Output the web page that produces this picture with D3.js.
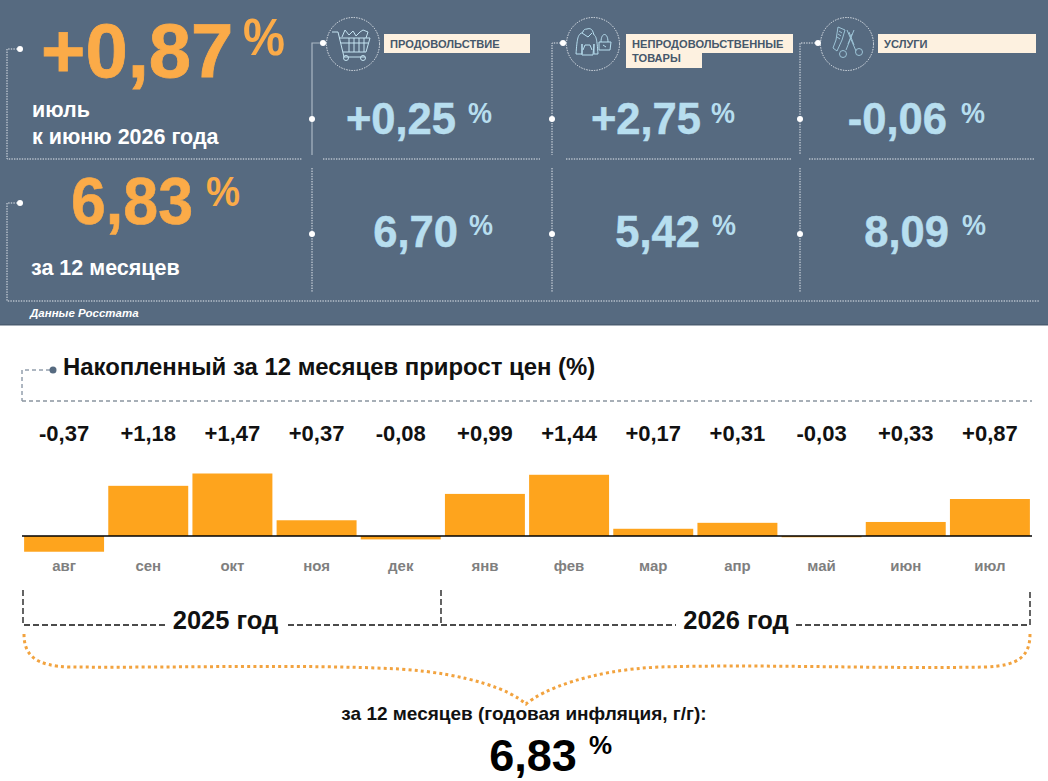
<!DOCTYPE html>
<html lang="ru">
<head>
<meta charset="UTF-8">
<title>Инфляция</title>
<script src="https://d3js.org/d3.v7.min.js"></script>
<style>
    html, body { margin: 0; padding: 0; background: #fff; }
    svg { display: block; }
    text { font-family: "Liberation Sans", Arial, sans-serif; font-weight: bold; }
</style>
</head>
<body>
<div id="container"></div>
<script>
// DATA
const months = ["авг", "сен", "окт", "ноя", "дек", "янв", "фев", "мар", "апр", "май", "июн", "июл"];
const monthly = [-0.37, 1.18, 1.47, 0.37, -0.08, 0.99, 1.44, 0.17, 0.31, -0.03, 0.33, 0.87];
const monthlyLabels = ["-0,37", "+1,18", "+1,47", "+0,37", "-0,08", "+0,99", "+1,44", "+0,17", "+0,31", "-0,03", "+0,33", "+0,87"];
const categories = [["ПРОДОВОЛЬСТВИЕ"], ["НЕПРОДОВОЛЬСТВЕННЫЕ", "ТОВАРЫ"], ["УСЛУГИ"]];
const categoryMonth = ["+0,25", "+2,75", "-0,06"];
const categoryYear = ["6,70", "5,42", "8,09"];
const totalMonth = "+0,87";
const totalYear = "6,83";

const width = 1048;
const height = 781;
const orange = "#fbab48";
const blue = "#b7deef";
const slate = "#566a80";

const svg = d3.select("#container").append("svg")
    .attr("width", width)
    .attr("height", height)
    .attr("viewBox", "0 0 " + width + " " + height);

// little helpers
function label(x, y, str, size, color, anchor, style) {
    const t = svg.append("text")
        .attr("x", x).attr("y", y)
        .attr("font-size", size)
        .attr("fill", color)
        .attr("text-anchor", anchor || "start")
        .text(str);
    if (style) t.attr("font-style", style);
    return t;
}
// the % signs in the original are taller than they are wide
function squeezed(x, y, str, size, color, len) {
    return label(x, y, str, size, color)
        .attr("textLength", len)
        .attr("lengthAdjust", "spacingAndGlyphs");
}
function dotted(d, w) {
    return svg.append("path").attr("d", d)
        .attr("fill", "none")
        .attr("stroke", "#e4e9ee")
        .attr("stroke-width", w || 1)
        .attr("stroke-dasharray", "1.4 1.2");
}
function dot(x, y, r) {
    svg.append("circle").attr("cx", x).attr("cy", y).attr("r", r || 3).attr("fill", "#fff");
}

// TOP PANEL
svg.append("rect").attr("width", width).attr("height", 325).attr("fill", slate);
svg.append("rect").attr("y", 324).attr("width", width).attr("height", 1.5).attr("fill", "#4a5c70");

dotted("M20,49H7V159H302");
dotted("M20,203H7V301H1040");
dot(20, 49); dot(20, 203);

label(41, 77, totalMonth, 76, orange).attr("stroke", orange).attr("stroke-width", 0.8);
squeezed(243, 55, "%", 52, orange, 42);
label(32, 117, "июль", 21.5, "#fff");
label(32, 144, "к июню 2026 года", 21.5, "#fff");
squeezed(71, 224, totalYear, 66, orange, 122).attr("stroke", orange).attr("stroke-width", 0.6);
squeezed(206, 206, "%", 43, orange, 34);
label(31, 275, "за 12 месяцев", 21.5, "#fff");
label(30, 317, "Данные Росстата", 11.5, "#fff", "start", "italic");

// category columns
const colX = [312, 552, 800];
const iconX = [353, 593, 847];
const dotX = [323, 563, 818];
const rowLine = [[323, 540], [566, 792], [809, 1035]];
const tagX = [384, 626, 878];
const tagW = [146, 167, 158];
const monthEnd = [456, 701, 947];
const yearEnd = [458, 700, 949];
const monthPct = [468, 711, 961];
const yearPct = [469, 712, 962];

colX.forEach(function (x, i) {
    // first column has a solid line on the upper half
    if (i === 0) {
        svg.append("path").attr("d", "M323,43H312V155").attr("fill", "none")
            .attr("stroke", "#aab7c4").attr("stroke-width", 1.2);
    } else {
        dotted("M" + dotX[i] + ",43H" + x + "V155");
    }
    dotted("M" + x + ",168V292");
    dotted("M" + rowLine[i][0] + ",159H" + rowLine[i][1]);
    dot(dotX[i], 43); dot(x, 119); dot(x, 234);

    // icon ring
    svg.append("circle").attr("cx", iconX[i]).attr("cy", 44).attr("r", 26.5)
        .attr("fill", "none").attr("stroke", "#e4e9ee").attr("stroke-dasharray", "1.4 1.2");

    // tag
    svg.append("rect").attr("x", tagX[i]).attr("y", 34).attr("width", tagW[i]).attr("height", 19).attr("fill", "#fdf1e0");
    if (categories[i].length > 1) {
        svg.append("rect").attr("x", tagX[i]).attr("y", 52).attr("width", 76).attr("height", 16).attr("fill", "#fdf1e0");
    }
    categories[i].forEach(function (s, j) {
        label(tagX[i] + 6, 48 + j * 14, s, 11.1, "#46586b");
    });

    label(monthEnd[i], 134, categoryMonth[i], 43.5, blue, "end").attr("stroke", blue).attr("stroke-width", 0.5);
    squeezed(monthPct[i], 123, "%", 29, blue, 24);
    label(yearEnd[i], 247, categoryYear[i], 43.5, blue, "end").attr("stroke", blue).attr("stroke-width", 0.5);
    squeezed(yearPct[i], 235, "%", 29, blue, 24);
});

// icons
function icon(x, y, d, color) {
    svg.append("path").attr("transform", "translate(" + x + "," + y + ")")
        .attr("d", d).attr("fill", "none").attr("stroke", color).attr("stroke-width", 1);
}
function ring(cx, cy, r) {
    return "M" + (cx - r) + "," + cy + "a" + r + "," + r + " 0 1 0 " + (2 * r) + ",0a" + r + "," + r + " 0 1 0 " + (-2 * r) + ",0";
}
icon(353, 44, "M-21,-12H-15L-9,13H12M-14,-6H17L13,8H-10M-12,-1H15M-4,-6V8M1,-6V8M6,-6V8M11,-6V8"
    + "M-11,-7L-8,-14L-4,-9L0,-13L3,-8L7,-12L10,-14L15,-12L13,-6"
    + ring(-7, 14, 2.5) + ring(10, 14, 2.5), "#c4e3f1");
icon(593, 44, "M-6,-15C-3,-16 -1,-15 0,-12L1,-9C3,-8 4,-5 5,10H1V0L0,11H-11L-11,0V10H-17C-16,-5 -15,-8 -13,-10L-10,-12C-10,-14 -8,-15 -6,-15Z"
    + "M-11,-11L-5,-7L-1,-11M-10,6L-8,1H-3L-1,6"
    + "M6,-2H18L17,6H6ZM8,-2C8,-12 15,-12 15,-2M10,1L13,3", "#b7deef");
icon(847, 44, "M-9,-17L-2,-14L-5,-4L-10,7L-14,4L-11,-4ZM-8,-13L-5,-11M-9,-10L-6,-8M-10,-7L-7,-5"
    + "M0,-14L9,7M7,-14L-1,6M2,-12L7,1M5,-10L1,0"
    + ring(12, 8, 3.5) + ring(-4, 10, 3.5), "#9cc3d6");

// BOTTOM CHART
// title
svg.append("path").attr("d", "M50,370H22V401").attr("fill", "none")
    .attr("stroke", "#5d6f83").attr("stroke-width", 1).attr("stroke-dasharray", "4 3");
svg.append("path").attr("d", "M22,401H1032").attr("fill", "none")
    .attr("stroke", "#8a95a0").attr("stroke-width", 1.3).attr("stroke-dasharray", "4 3");
svg.append("circle").attr("cx", 53).attr("cy", 370).attr("r", 3.5).attr("fill", slate);
label(63, 375, "Накопленный за 12 месяцев прирост цен (%)", 23.9, "#111");

const xScale = d3.scaleBand().domain(months).range([22, 1032]).paddingInner(0.05).paddingOuter(0.025);
const yScale = d3.scaleLinear().domain([0, 1.47]).range([536, 473.5]);

svg.selectAll("rect.bar")
    .data(monthly)
    .enter()
    .append("rect")
    .attr("class", "bar")
    .attr("x", function (d, i) { return xScale(months[i]); })
    .attr("y", function (d) { return yScale(Math.max(d, 0)); })
    .attr("width", xScale.bandwidth())
    .attr("height", function (d) { return Math.abs(yScale(d) - yScale(0)); })
    .attr("fill", "#fea41d");

svg.append("line")
    .attr("x1", 22).attr("x2", 1032)
    .attr("y1", yScale(0)).attr("y2", yScale(0))
    .attr("stroke", "#000").attr("stroke-width", 1.5);

svg.selectAll("text.val")
    .data(monthlyLabels)
    .enter()
    .append("text")
    .attr("class", "val")
    .attr("x", function (d, i) { return xScale(months[i]) + xScale.bandwidth() / 2; })
    .attr("y", 441)
    .attr("text-anchor", "middle")
    .attr("font-size", 22)
    .attr("fill", "#111")
    .text(function (d) { return d; });

const xaxis = d3.axisBottom(xScale).tickSize(0);
const axisG = svg.append("g").attr("transform", "translate(0,556)").call(xaxis);
axisG.select(".domain").remove();
axisG.selectAll("text")
    .attr("dy", 0).attr("y", 15)
    .attr("font-family", "Liberation Sans")
    .attr("font-size", 15)
    .attr("fill", "#7f7f7f");

// year brackets
svg.append("path")
    .attr("d", "M23,590V625H165M288,625H676M796,625H1030V590M441,590V625")
    .attr("fill", "none").attr("stroke", "#111").attr("stroke-width", 1.3).attr("stroke-dasharray", "6 3");
label(225.5, 629, "2025 год", 25.5, "#111", "middle");
label(736, 629, "2026 год", 25.5, "#111", "middle");

// brace
svg.append("path")
    .attr("d", "M24,634C24,655 35,666 70,667C180,668 300,664 400,669C470,674 510,690 526,704C542,690 590,670 660,667C760,664 880,669 985,667C1020,666 1030,655 1030,634")
    .attr("fill", "none").attr("stroke", "#f2a33f").attr("stroke-width", 3).attr("stroke-dasharray", "3 3.2");

label(524, 720, "за 12 месяцев (годовая инфляция, г/г):", 19, "#111", "middle");
label(533, 771, totalYear, 45, "#000", "middle");
label(589, 754, "%", 26, "#000");
</script>
</body>
</html>
